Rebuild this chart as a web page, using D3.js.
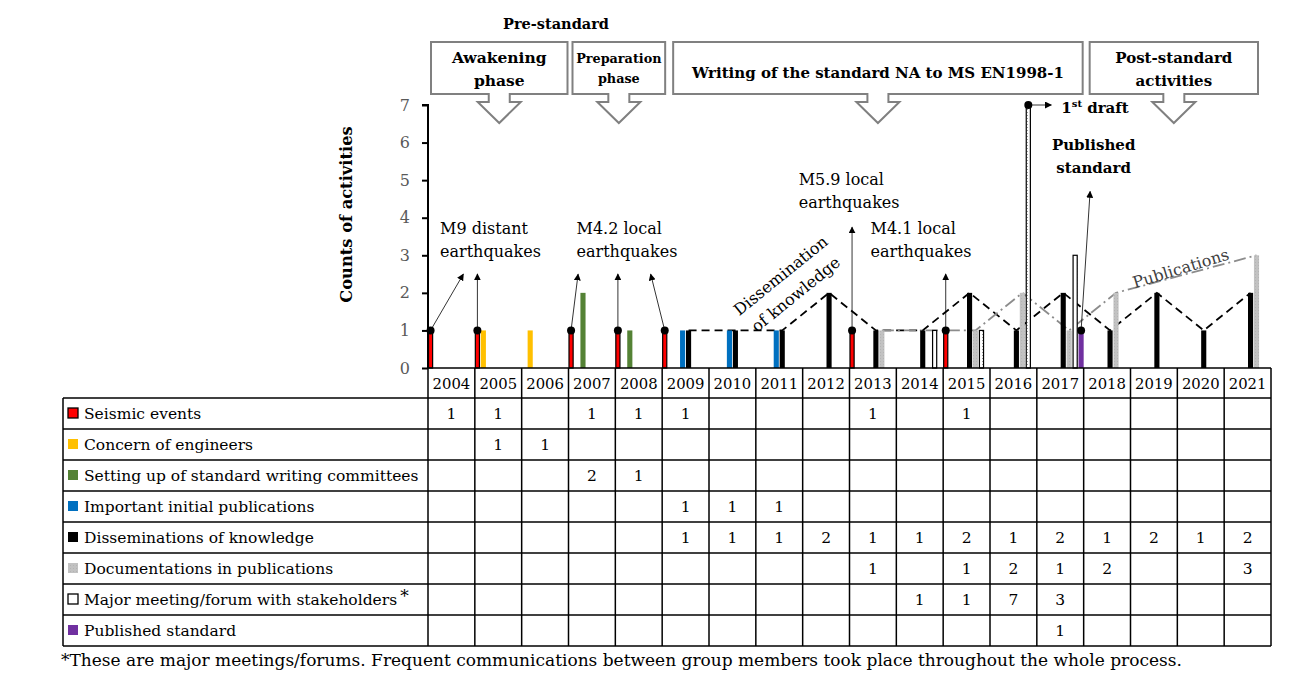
<!DOCTYPE html>
<html>
<head>
<meta charset="utf-8">
<script src="https://cdn.jsdelivr.net/npm/d3@7"></script>
<style>
  body { margin: 0; background: #fff; }
  svg { font-family: "DejaVu Serif", serif; }
</style>
</head>
<body>
<svg id="chart" width="1312" height="679"></svg>
<script>
// ---- data ----
const years = ['2004','2005','2006','2007','2008','2009','2010','2011','2012','2013','2014','2015','2016','2017','2018','2019','2020','2021'];
const seriesNames = ['Seismic events','Concern of engineers','Setting up of standard writing committees','Important initial publications','Disseminations of knowledge','Documentations in publications','Major meeting/forum with stakeholders','Published standard'];
const seismic       = [1,1,null,1,1,1,null,null,null,1,null,1,null,null,null,null,null,null];
const concern       = [null,1,1,null,null,null,null,null,null,null,null,null,null,null,null,null,null,null];
const committees    = [null,null,null,2,1,null,null,null,null,null,null,null,null,null,null,null,null,null];
const initialPubs   = [null,null,null,null,null,1,1,1,null,null,null,null,null,null,null,null,null,null];
const dissemination = [null,null,null,null,null,1,1,1,2,1,1,2,1,2,1,2,1,2];
const documentation = [null,null,null,null,null,null,null,null,null,1,null,1,2,1,2,null,null,3];
const meetings      = [null,null,null,null,null,null,null,null,null,null,1,1,7,3,null,null,null,null];
const published     = [null,null,null,null,null,null,null,null,null,null,null,null,null,1,null,null,null,null];
const yTicks = [0,1,2,3,4,5,6,7];

const seriesValues = [seismic, concern, committees, initialPubs, dissemination, documentation, meetings, published];
const seriesColors = ['#ff0000','#ffc000','#548235','#0070c0','#000000','#bfbfbf','#ffffff','#7030a0'];

const phases = [
  {lines: ['Awakening','phase'], from: '2004', to: '2007', size: 15.5},
  {lines: ['Preparation','phase'], from: '2007', to: '2009', size: 12.8},
  {lines: ['Writing of the standard NA to MS EN1998-1'], from: '2009', to: '2018', size: 15},
  {lines: ['Post-standard','activities'], from: '2018', to: '2021', size: 15}
];

const quakeNotes = [
  {lines: ['M9 distant','earthquakes'], years: ['2004','2005'], ends: [[0.7,2.5],[0,2.5]], at: ['2004', 3.57]},
  {lines: ['M4.2 local','earthquakes'], years: ['2007','2008','2009'], ends: [[0.15,2.5],[0,2.5],[-0.3,2.5]], at: ['2007', 3.57]},
  {lines: ['M5.9 local','earthquakes'], years: ['2013'], ends: [[0,3.75]], at: ['2012', 4.87]},
  {lines: ['M4.1 local','earthquakes'], years: ['2015'], ends: [[0,2.5]], at: ['2013', 3.57]}
];

// ---- layout ----
const svg = d3.select('#chart');
const plotLeft = 428, plotRight = 1271, plotTop = 105, plotBottom = 368;
const tableLeft = 63, headerH = 30, rowH = 31;

const x = d3.scaleBand().domain(years).range([plotLeft, plotRight]).padding(0);
const sub = d3.scaleBand().domain(d3.range(seriesNames.length)).range([0, x.bandwidth()]).paddingInner(0.14);
const y = d3.scaleLinear().domain([0, 7]).range([plotBottom, plotTop]);
const cx = (yr, s) => x(yr) + sub(s) + sub.bandwidth() / 2;

const defs = svg.append('defs');
defs.append('marker').attr('id', 'arr').attr('viewBox', '0 0 10 10').attr('refX', 9).attr('refY', 5)
  .attr('markerWidth', 7).attr('markerHeight', 7).attr('markerUnits', 'userSpaceOnUse').attr('orient', 'auto')
  .append('path').attr('d', 'M0,0L10,5L0,10z').attr('fill', '#000');
const dots = defs.append('pattern').attr('id', 'dots').attr('width', 5).attr('height', 3).attr('patternUnits', 'userSpaceOnUse');
dots.append('rect').attr('width', 5).attr('height', 3).attr('fill', '#fff');
dots.append('rect').attr('x', 2).attr('y', 1).attr('width', 1).attr('height', 1).attr('fill', '#999');
const gdots = defs.append('pattern').attr('id', 'gdots').attr('width', 3).attr('height', 3).attr('patternUnits', 'userSpaceOnUse');
gdots.append('rect').attr('width', 3).attr('height', 3).attr('fill', '#c2c2c2');
gdots.append('rect').attr('x', 1).attr('y', 1).attr('width', 1).attr('height', 1).attr('fill', '#b4b4b4');

const fillFor = s => s === 6 ? 'url(#dots)' : s === 5 ? 'url(#gdots)' : seriesColors[s];

// ---- phase callouts ----
svg.append('text').attr('x', 556).attr('y', 29).attr('text-anchor', 'middle')
  .attr('font-weight', 'bold').attr('font-size', 14.5).text('Pre-standard');

const boxTop = 42, boxBottom = 94;
phases.forEach((p, i) => {
  const x0 = x(p.from) + (i === 0 ? 3 : i === 1 ? 4 : i === 2 ? 11 : 6);
  const x1 = (i === 3 ? x(p.to) + x.bandwidth() - 13 : x(p.to) - (i === 0 ? 1 : i === 1 ? -3 : 1));
  const c = (x0 + x1) / 2;
  const path = d3.path();
  path.moveTo(x0, boxTop); path.lineTo(x1, boxTop); path.lineTo(x1, boxBottom);
  path.lineTo(c + 10.5, boxBottom); path.lineTo(c + 10.5, boxBottom + 8); path.lineTo(c + 21.5, boxBottom + 8);
  path.lineTo(c, boxBottom + 29); path.lineTo(c - 21.5, boxBottom + 8); path.lineTo(c - 10.5, boxBottom + 8);
  path.lineTo(c - 10.5, boxBottom); path.lineTo(x0, boxBottom); path.closePath();
  svg.append('path').attr('d', path.toString()).attr('fill', '#fff').attr('stroke', '#808080').attr('stroke-width', 2);
  const t = svg.append('text').attr('text-anchor', 'middle').attr('font-weight', 'bold').attr('font-size', p.size);
  const base = p.lines.length === 1 ? 78 : 63;
  p.lines.forEach((l, j) => t.append('tspan').attr('x', c).attr('y', base + j * (p.size < 14 ? 20 : 23)).text(l));
});

// ---- trend lines ----
const discIdx = d3.range(years.length).filter(i => dissemination[i] != null);
svg.append('path').datum(discIdx)
  .attr('d', d3.line().x(i => cx(years[i], 4)).y(i => y(dissemination[i])))
  .attr('fill', 'none').attr('stroke', '#000').attr('stroke-width', 1.8).attr('stroke-dasharray', '8,5');
const docIdx = d3.range(years.length).filter(i => documentation[i] != null);
svg.append('path').datum(docIdx)
  .attr('d', d3.line().x(i => cx(years[i], 5)).y(i => y(documentation[i])))
  .attr('fill', 'none').attr('stroke', '#8c8c8c').attr('stroke-width', 1.8).attr('stroke-dasharray', '12,4,2,4');

// ---- bars ----
seriesValues.forEach((vals, s) => {
  const data = years.map((yr, i) => ({yr, v: vals[i]})).filter(d => d.v != null);
  svg.append('g').selectAll('rect').data(data).join('rect')
    .attr('x', d => x(d.yr) + sub(s) + (s === 0 || s === 6 ? 0.5 : 0))
    .attr('width', sub.bandwidth() - (s === 0 || s === 6 ? 1 : 0))
    .attr('y', d => y(d.v))
    .attr('height', d => y(0) - y(d.v))
    .attr('fill', fillFor(s))
    .attr('stroke', s === 0 || s === 6 ? '#000' : 'none')
    .attr('stroke-width', 1.2);
});

// ---- y axis ----
const yAxis = svg.append('g').attr('transform', `translate(${plotLeft},0)`)
  .call(d3.axisLeft(y).tickValues(yTicks).tickSize(6).tickPadding(12).tickFormat(d3.format('d')));
yAxis.select('.domain').attr('stroke', '#000').attr('stroke-width', 2).attr('d', `M-6,${y(7)}H0V${y(0)}`);
yAxis.selectAll('.tick line').attr('stroke', '#000').attr('stroke-width', 2);
yAxis.selectAll('.tick text').attr('font-family', '"DejaVu Serif", serif').attr('font-size', 16).attr('fill', '#595959');
svg.append('text').attr('transform', `translate(352,${(y(0) + y(7)) / 2 - 22}) rotate(-90)`)
  .attr('text-anchor', 'middle').attr('font-weight', 'bold').attr('font-size', 16.3).text('Counts of activities');

// ---- quake annotations ----
quakeNotes.forEach(n => {
  n.years.forEach((yr, k) => {
    const x0 = cx(yr, 0), y0 = y(1);
    const x1 = x0 + n.ends[k][0] * x.bandwidth(), y1 = y(n.ends[k][1]);
    svg.append('line').attr('x1', x0).attr('y1', y0).attr('x2', x1).attr('y2', y1)
      .attr('stroke', '#000').attr('stroke-width', 0.8).attr('marker-end', 'url(#arr)');
  });
  const t = svg.append('text').attr('font-size', 16);
  const dx = n.at[0] === '2012' ? -4 : n.at[0] === '2013' ? 21 : n.at[0] === '2007' ? 8 : 12;
  n.lines.forEach((l, j) => t.append('tspan').attr('x', x(n.at[0]) + dx).attr('y', y(n.at[1]) + j * 23).text(l));
});
// dots on seismic bars
const seisData = years.map((yr, i) => ({yr, v: seismic[i]})).filter(d => d.v != null);
svg.append('g').selectAll('circle').data(seisData).join('circle')
  .attr('cx', d => cx(d.yr, 0)).attr('cy', d => y(d.v)).attr('r', 4).attr('fill', '#000');

// first draft
const draftI = meetings.indexOf(d3.max(meetings));
svg.append('circle').attr('cx', cx(years[draftI], 6)).attr('cy', y(meetings[draftI])).attr('r', 4).attr('fill', '#000');
svg.append('line').attr('x1', cx(years[draftI], 6)).attr('y1', y(meetings[draftI]))
  .attr('x2', cx(years[draftI], 6) + 23).attr('y2', y(meetings[draftI]))
  .attr('stroke', '#000').attr('stroke-width', 0.8).attr('marker-end', 'url(#arr)');
const dt = svg.append('text').attr('x', cx(years[draftI], 6) + 33).attr('y', y(meetings[draftI]) + 8)
  .attr('font-weight', 'bold').attr('font-size', 15);
dt.append('tspan').text('1');
dt.append('tspan').attr('dy', -6).attr('font-size', 10).text('st');
dt.append('tspan').attr('dy', 6).text(' draft');

// published standard
const pubI = published.findIndex(v => v != null);
svg.append('circle').attr('cx', cx(years[pubI], 7)).attr('cy', y(published[pubI])).attr('r', 4).attr('fill', '#000');
svg.append('line').attr('x1', cx(years[pubI], 7)).attr('y1', y(published[pubI]))
  .attr('x2', cx(years[pubI], 7) + 9).attr('y2', y(4.7))
  .attr('stroke', '#000').attr('stroke-width', 0.8).attr('marker-end', 'url(#arr)');
const pt = svg.append('text').attr('text-anchor', 'middle').attr('font-weight', 'bold').attr('font-size', 15);
['Published', 'standard'].forEach((l, j) => pt.append('tspan').attr('x', x('2018') + 10).attr('y', y(5.8) + j * 23).text(l));

// rotated line labels
const dl = svg.append('text').attr('transform', 'translate(781,276) rotate(-39)')
  .attr('text-anchor', 'middle').attr('font-size', 16);
dl.append('tspan').attr('x', 0).attr('y', 5).text('Dissemination');
dl.append('tspan').attr('x', 0).attr('y', 29).text('of knowledge');
svg.append('text').attr('transform', 'translate(1181,269) rotate(-17)')
  .attr('text-anchor', 'middle').attr('font-size', 16).attr('fill', '#404040').attr('dy', 5).text('Publications');

// ---- data table ----
const tableBottom = plotBottom + headerH + rowH * seriesNames.length;
const grid = svg.append('g').attr('stroke', '#000').attr('stroke-width', 1.5);
grid.append('line').attr('x1', plotLeft).attr('x2', plotRight).attr('y1', plotBottom).attr('y2', plotBottom);
d3.range(seriesNames.length + 1).forEach(r => {
  const yy = plotBottom + headerH + r * rowH;
  grid.append('line').attr('x1', tableLeft).attr('x2', plotRight).attr('y1', yy).attr('y2', yy);
});
grid.append('line').attr('x1', tableLeft).attr('x2', tableLeft).attr('y1', plotBottom + headerH).attr('y2', tableBottom);
years.concat(['end']).forEach((yr, i) => {
  const xx = i < years.length ? x(yr) : plotRight;
  grid.append('line').attr('x1', xx).attr('x2', xx).attr('y1', plotBottom).attr('y2', tableBottom);
});
svg.append('g').selectAll('text').data(years).join('text')
  .attr('x', d => x(d) + x.bandwidth() / 2).attr('y', plotBottom + 21)
  .attr('text-anchor', 'middle').attr('font-size', 14.8).text(d => d);

seriesNames.forEach((name, s) => {
  const ry = plotBottom + headerH + s * rowH;
  svg.append('rect').attr('x', 68).attr('y', ry + 10).attr('width', 10).attr('height', 10)
    .attr('fill', s === 5 ? 'url(#gdots)' : seriesColors[s])
    .attr('stroke', s === 0 || s === 6 ? '#000' : 'none').attr('stroke-width', 1.3);
  const lt = svg.append('text').attr('x', 84).attr('y', ry + 21).attr('font-size', 15.5).text(name);
  if (s === 6) lt.append('tspan').attr('dx', 3).attr('dy', -3).attr('font-size', 17).text('*');
  svg.append('g').selectAll('text').data(years.map((yr, i) => ({yr, v: seriesValues[s][i]})).filter(d => d.v != null))
    .join('text').attr('x', d => x(d.yr) + x.bandwidth() / 2).attr('y', ry + 21)
    .attr('text-anchor', 'middle').attr('font-size', 15.5).text(d => d.v);
});

svg.append('text').attr('x', tableLeft - 2).attr('y', tableBottom + 20).attr('font-size', 17)
  .text('*These are major meetings/forums. Frequent communications between group members took place throughout the whole process.');
</script>
</body>
</html>
